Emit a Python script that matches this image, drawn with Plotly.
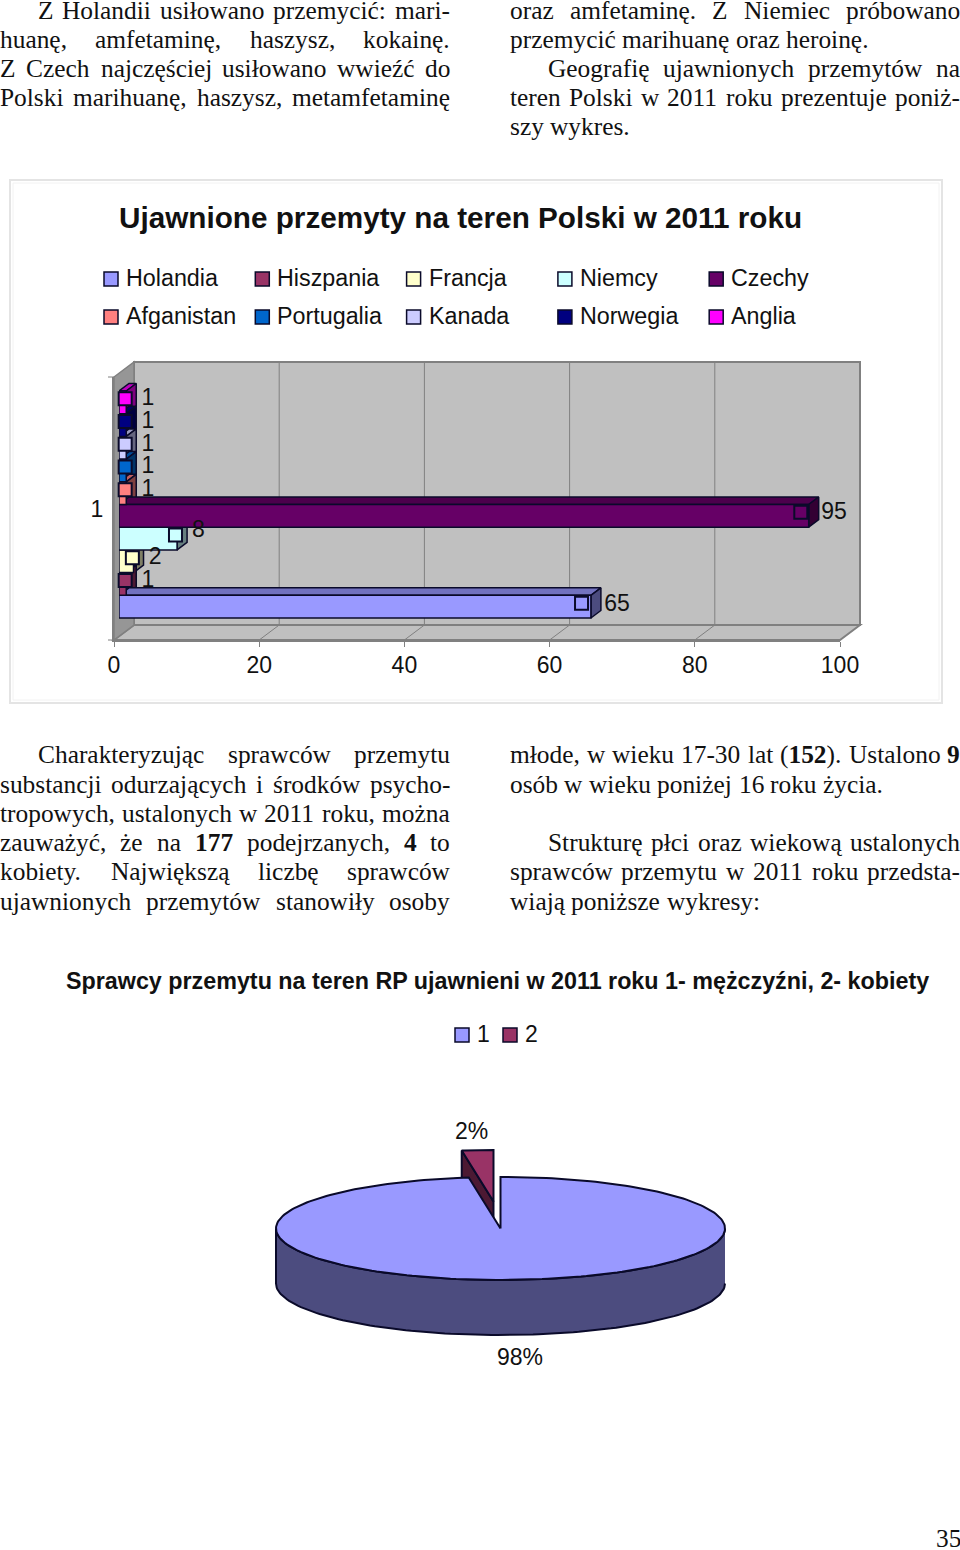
import unicodedata

import numpy as np
import plotly.graph_objects as go

W, H = 960, 1550

# bar chart data (bottom to top)
countries = ["Holandia", "Hiszpania", "Francja", "Niemcy", "Czechy",
             "Afganistan", "Portugalia", "Kanada", "Norwegia", "Anglia"]
seizures = [65, 1, 2, 8, 95, 1, 1, 1, 1, 1]
colors = ["#9999FF", "#993366", "#FFFFCC", "#CCFFFF", "#660066",
          "#FF8080", "#0066CC", "#CCCCFF", "#000080", "#FF00FF"]
x_ticks = [0, 20, 40, 60, 80, 100]
category_labels = ["1"]

# pie data
pie_labels = ["1", "2"]
pie_values = [173, 4]
pie_colors = ["#9999FF", "#993366"]

SANS = "Liberation Sans"
SERIF = "Liberation Serif"
INK = "#111111"
EDGE = "#0a0a2a"
GREY = "#808080"

# body text, one entry per printed line: left edge, right edge, y, text, justified
body_lines = [
    (38, 450, 10, "Z Holandii usiłowano przemycić: mari-", True),
    (0, 450, 39, "huanę, amfetaminę, haszysz, kokainę.", True),
    (0, 450, 68, "Z Czech najczęściej usiłowano wwieźć do", True),
    (0, 450, 97, "Polski marihuanę, haszysz, metamfetaminę", True),
    (510, 960, 10, "oraz amfetaminę. Z Niemiec próbowano", True),
    (510, 960, 39, "przemycić marihuanę oraz heroinę.", False),
    (548, 960, 68, "Geografię ujawnionych przemytów na", True),
    (510, 960, 97, "teren Polski w 2011 roku prezentuje poniż-", True),
    (510, 960, 126, "szy wykres.", False),
    (38, 450, 754, "Charakteryzując sprawców przemytu", True),
    (0, 450, 784, "substancji odurzających i środków psycho-", True),
    (0, 450, 813, "tropowych, ustalonych w 2011 roku, można", True),
    (0, 450, 842, "zauważyć, że na <b>177</b> podejrzanych, <b>4</b> to", True),
    (0, 450, 871, "kobiety. Największą liczbę sprawców", True),
    (0, 450, 901, "ujawnionych przemytów stanowiły osoby", True),
    (510, 960, 754, "młode, w wieku 17-30 lat (<b>152</b>). Ustalono <b>9</b>", True),
    (510, 960, 784, "osób w wieku poniżej 16 roku życia.", False),
    (548, 960, 842, "Strukturę płci oraz wiekową ustalonych", True),
    (510, 960, 871, "sprawców przemytu w 2011 roku przedsta-", True),
    (510, 960, 901, "wiają poniższe wykresy:", False),
]
BODY_SIZE = 25.4

# Times metrics, needed to justify the lines word by word
TIMES = {}
for chars, w in [("acez", 444), ("bdghknopquvxy0123456789", 500), ("fr-()", 333),
                 ("ijlt:;", 278), ("m", 778), ("s", 389), ("w", 722), (".,", 250),
                 ("ACDGHKNOQUVXY", 722), ("BR", 667), ("E", 611), ("F", 556),
                 ("I", 333), ("J", 389), ("LTZ", 611), ("M", 889), ("PS", 556),
                 ("W", 944), ("ł", 278)]:
    for c in chars:
        TIMES[c] = w


def word_width(word):
    plain = word.replace("<b>", "").replace("</b>", "")
    total = 0
    for c in plain:
        base = "ł" if c == "ł" else unicodedata.normalize("NFD", c)[0]
        total += TIMES.get(base, 500)
    return total * BODY_SIZE / 1000


def px(x):
    return x / W


def py(y):
    return 1 - y / H


def note(x, y, text, size=23, family=SANS, anchor="left"):
    return dict(x=px(x), y=py(y), xref="paper", yref="paper", text=text,
                showarrow=False, xanchor=anchor, yanchor="middle", borderpad=0,
                borderwidth=0, font=dict(family=family, size=size, color=INK))


def poly(points, fill, line=GREY, width=1.5):
    path = "M" + " L".join(f"{px(x)},{py(y)}" for x, y in points) + " Z"
    return dict(type="path", path=path, xref="paper", yref="paper", layer="below",
                fillcolor=fill, line=dict(color=line, width=width))


def seg(x0, y0, x1, y1, color=GREY, width=1):
    return dict(type="line", xref="paper", yref="paper", layer="below",
                x0=px(x0), y0=py(y0), x1=px(x1), y1=py(y1),
                line=dict(color=color, width=width))


def shade(hex_color, k):
    r, g, b = [int(hex_color[i:i + 2], 16) for i in (1, 3, 5)]
    return f"rgb({int(r * k)},{int(g * k)},{int(b * k)})"


annotations = []
for x0, x1, y, text, justified in body_lines:
    words = text.split(" ")
    widths = [word_width(w) for w in words]
    gap = BODY_SIZE * 0.25
    if justified:
        gap = (x1 - x0 - sum(widths)) / (len(words) - 1)
    x = x0
    for word, ww in zip(words, widths):
        annotations.append(note(x, y, word, BODY_SIZE, SERIF))
        x += ww + gap

annotations.append(note(936, 1538, "35", BODY_SIZE, SERIF))
annotations.append(note(460.5, 218, "<b>Ujawnione przemyty na teren Polski w 2011 roku</b>",
                        29.7, anchor="center"))
annotations.append(note(497, 981, "<b>Sprawcy przemytu na teren RP ujawnieni w 2011 roku 1- mężczyźni, 2- kobiety</b>",
                        23.3, anchor="center"))

# chart frame
shapes = [
    dict(type="rect", xref="paper", yref="paper", layer="below", x0=px(10), y0=py(703),
         x1=px(942), y1=py(180), line=dict(color="#e4e4e4", width=2), fillcolor="white"),
    dict(type="rect", xref="paper", yref="paper", layer="below", x0=px(13), y0=py(700),
         x1=px(939), y1=py(183), line=dict(color="#f2f2f2", width=1), fillcolor="white"),
]

# legend of the bar chart: five columns, two rows
for i, (name, col) in enumerate(zip(countries, colors)):
    lx = 104 + 151.3 * (i % 5)
    ly = 279 + 38 * (i // 5)
    shapes.append(dict(type="rect", xref="paper", yref="paper", x0=px(lx), x1=px(lx + 14),
                       y0=py(ly + 7), y1=py(ly - 7), fillcolor=col,
                       line=dict(color=EDGE, width=1.5)))
    annotations.append(note(lx + 22, ly - 1, name, 23.3))

# legend of the pie
for i, (name, col) in enumerate(zip(pie_labels, pie_colors)):
    lx = 455 + 48 * i
    shapes.append(dict(type="rect", xref="paper", yref="paper", x0=px(lx), x1=px(lx + 14),
                       y0=py(1042), y1=py(1028), fillcolor=col,
                       line=dict(color=EDGE, width=1.5)))
    annotations.append(note(lx + 22, 1034, name))

# 3D box behind the bars
FL, FR, FB, FT = 114, 840, 640, 377   # front plane
DX, DY = 20, 15                       # box depth
shapes += [
    poly([(FL + DX, FT - DY), (FR + DX, FT - DY), (FR + DX, FB - DY), (FL + DX, FB - DY)], "#C0C0C0", width=2),
    poly([(FL, FB), (FL + DX, FB - DY), (FR + DX, FB - DY), (FR, FB)], "#C0C0C0", width=2),
    poly([(FL, FT), (FL + DX, FT - DY), (FL + DX, FB - DY), (FL, FB)], "#969696", width=1.5),
    seg(FL - 6, FT, FL, FT),
    seg(FL - 6, FB, FL, FB),
]
for t in x_ticks[1:-1]:
    tx = FL + (FR - FL) * t / x_ticks[-1]
    shapes.append(seg(tx, FB, tx + DX, FB - DY))
    shapes.append(seg(tx + DX, FB - DY, tx + DX, FT - DY))

fig = go.Figure()

# keeps the front axes alive, they carry the tick labels
fig.add_trace(go.Scatter(x=x_ticks, y=[0] * len(x_ticks), xaxis="x", yaxis="y", mode="none",
                         showlegend=False, hoverinfo="skip"))

# bars sit on a plane a little behind the front of the box
BX, BY = 5, 4
BAR_GAP = 0.137
depth_x = 10 / 7.26
depth_y = 7.5 / (FB - FT)
bar_h = (1 - BAR_GAP) / len(countries)
key_y = 3.5 / (FB - FT)
label_y = 3 / (FB - FT)
label_nudge = {"Niemcy": 4.5 / (FB - FT), "Holandia": -2 / (FB - FT)}
key_nudge = {"Holandia": -0.5}

# depth faces live on their own subplot (x2) so that the fronts of the bars (x3) cover them
for i in range(len(countries))[::-1]:
    val, col = seizures[i], colors[i]
    lo = (i - (len(countries) - 1) / 2 - 0.5) * bar_h
    hi = lo + bar_h
    fig.add_trace(go.Scatter(x=[0, val, val + depth_x, depth_x, 0],
                             y=[hi, hi, hi + depth_y, hi + depth_y, hi],
                             xaxis="x2", yaxis="y2", mode="lines", fill="toself",
                             fillcolor=shade(col, 0.75), line=dict(color=EDGE, width=1.5),
                             showlegend=False, hoverinfo="skip"))
    fig.add_trace(go.Scatter(x=[val, val + depth_x, val + depth_x, val, val],
                             y=[hi, hi + depth_y, lo + depth_y, lo, hi],
                             xaxis="x2", yaxis="y2", mode="lines", fill="toself",
                             fillcolor=shade(col, 0.5), line=dict(color=EDGE, width=1.5),
                             showlegend=False, hoverinfo="skip"))

for name, val, col in zip(countries, seizures, colors):
    fig.add_trace(go.Bar(x=[val], y=[0], name=name, orientation="h", xaxis="x3", yaxis="y3",
                         marker=dict(color=col, line=dict(color=EDGE, width=1.5)),
                         showlegend=False))

# legend keys and value labels at the bar ends
for i, (name, val, col) in enumerate(zip(countries, seizures, colors)):
    mid = (i - (len(countries) - 1) / 2) * bar_h
    fig.add_trace(go.Scatter(x=[0.99 * val - 0.14 + key_nudge.get(name, 0)], y=[mid + key_y],
                             xaxis="x3", yaxis="y3",
                             mode="markers", showlegend=False, cliponaxis=False,
                             marker=dict(symbol="square", size=13, color=col,
                                         line=dict(color=EDGE, width=2))))
    fig.add_trace(go.Scatter(x=[0.996 * val + 2.1], y=[mid + label_y + label_nudge.get(name, 0)],
                             xaxis="x3", yaxis="y3",
                             mode="text", text=[str(val)], textposition="middle right", cliponaxis=False,
                             textfont=dict(family=SANS, size=23, color=INK), showlegend=False))

# pie, drawn on a unit circle squeezed into an ellipse
total = sum(pie_values)
small = 2 * np.pi * pie_values[1] / total
P_RX, P_RY, P_CX, P_CY = 224.5, 51.5, 500.5, 1228.5
P_DEPTH = 55 / P_RY
OFF_X, OFF_Y = -7 / P_RX, 27 / P_RY
Y_LOW, Y_HIGH = -3, 2

t_front = np.linspace(np.pi / 2, 3 * np.pi / 2, 120)
t_main = np.linspace(0, 2 * np.pi - small, 240)
t_small = np.linspace(2 * np.pi - small, 2 * np.pi, 12)

band_x = np.concatenate([np.sin(t_front), np.sin(t_front)[::-1]])
band_y = np.concatenate([np.cos(t_front), np.cos(t_front)[::-1] - P_DEPTH])
main_x = np.concatenate([[0], np.sin(t_main), [0]])
main_y = np.concatenate([[0], np.cos(t_main), [0]])
rim_x, rim_y = np.sin(t_small[0]), np.cos(t_small[0])
top_x = np.concatenate([[0], np.sin(t_small), [0]]) + OFF_X
top_y = np.concatenate([[0], np.cos(t_small), [0]]) + OFF_Y
side_x = np.array([rim_x, rim_x, 0, 0, rim_x]) + OFF_X
side_y = np.array([rim_y, rim_y - P_DEPTH, -P_DEPTH, 0, rim_y]) + OFF_Y

for xs, ys, col in [(band_x, band_y, shade(pie_colors[0], 0.5)),
                    (side_x, side_y, shade(pie_colors[1], 0.5)),
                    (top_x, top_y, pie_colors[1]),
                    (main_x, main_y, pie_colors[0])]:
    fig.add_trace(go.Scatter(x=xs, y=ys, xaxis="x4", yaxis="y4", mode="lines", fill="toself",
                             fillcolor=col, line=dict(color=EDGE, width=2),
                             showlegend=False, hoverinfo="skip"))

annotations.append(note(471, 1131, f"{round(100 * pie_values[1] / total)}%", anchor="center"))
annotations.append(note(520, 1357, f"{round(100 * pie_values[0] / total)}%", anchor="center"))

hidden = dict(visible=False, fixedrange=True)
bar_x_dom = [px(FL + BX), px(FR + BX)]
bar_y_dom = [py(FB - BY), py(FT - BY)]
fig.update_layout(
    width=W, height=H, autosize=False,
    margin=dict(l=0, r=0, t=0, b=0, autoexpand=False),
    paper_bgcolor="white", plot_bgcolor="rgba(0,0,0,0)",
    barmode="group", bargap=BAR_GAP, bargroupgap=0,
    showlegend=False,
    font=dict(family=SANS, color=INK),
    xaxis=dict(domain=[px(FL), px(FR)], range=[0, 100], tickvals=x_ticks, anchor="y",
               showgrid=False, zeroline=False, showline=True, linecolor=GREY, linewidth=2,
               ticks="outside", ticklen=5, tickcolor=GREY, tickwidth=1,
               tickfont=dict(family=SANS, size=23, color=INK), ticklabelstandoff=-2),
    yaxis=dict(domain=[py(FB), py(FT)], range=[-0.5, 0.5], tickvals=[0], ticktext=category_labels,
               anchor="x", showgrid=False, zeroline=False, showline=True, linecolor=GREY, linewidth=2,
               ticks="", tickfont=dict(family=SANS, size=23, color=INK), ticklabelstandoff=4),
    xaxis2=dict(domain=bar_x_dom, range=[0, 100], anchor="y2", **hidden),
    yaxis2=dict(domain=bar_y_dom, range=[-0.5, 0.5], anchor="x2", **hidden),
    xaxis3=dict(domain=bar_x_dom, range=[0, 100], anchor="y3", **hidden),
    yaxis3=dict(domain=bar_y_dom, range=[-0.5, 0.5], anchor="x3", **hidden),
    xaxis4=dict(domain=[px(P_CX - 1.1 * P_RX), px(P_CX + 1.1 * P_RX)], range=[-1.1, 1.1], anchor="y4", **hidden),
    yaxis4=dict(domain=[py(P_CY - Y_LOW * P_RY), py(P_CY - Y_HIGH * P_RY)], range=[Y_LOW, Y_HIGH], anchor="x4", **hidden),
    shapes=shapes,
    annotations=annotations,
)

# the default page margin would push the figure off the window
fig.write_html("out.html", config=dict(displayModeBar=False),
               post_script="document.body.style.margin='0';document.documentElement.style.overflow='hidden';")
